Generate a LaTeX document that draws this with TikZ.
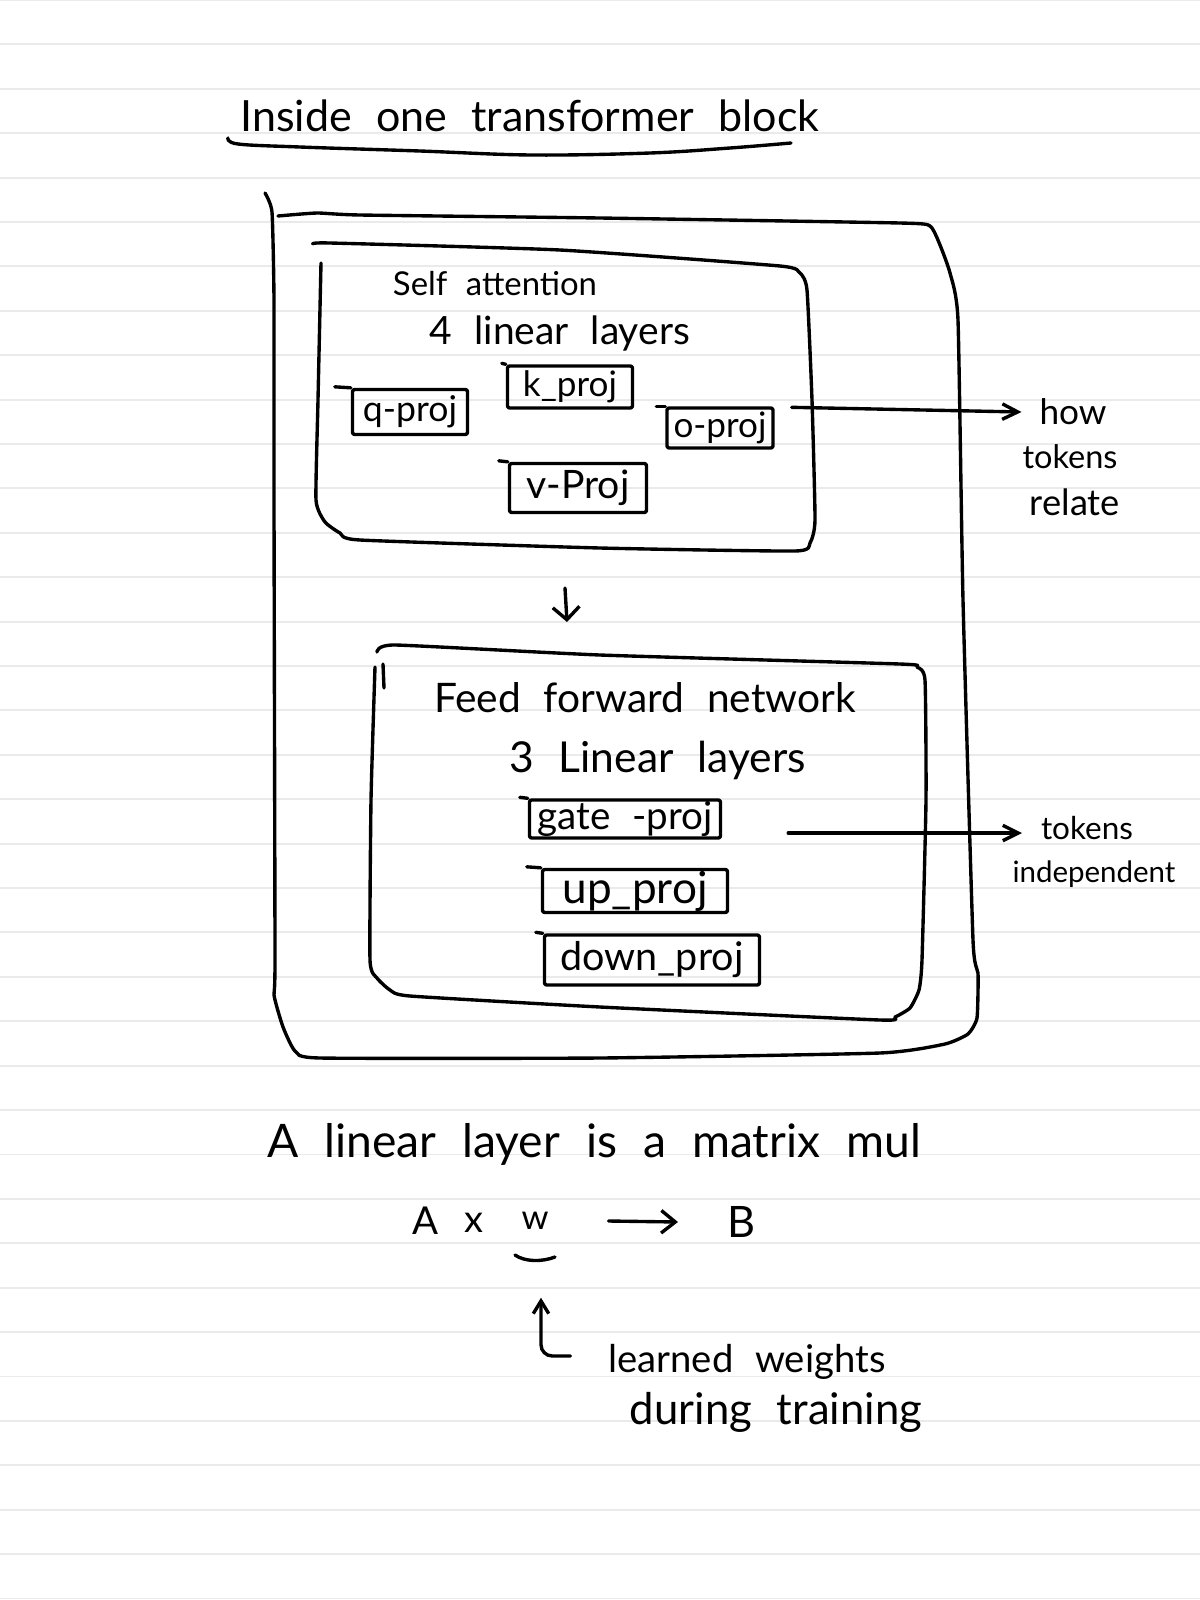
\documentclass[tikz,border=0pt]{standalone}
\usepackage{fontspec}
\setmainfont[WordSpace=2.2]{Lato}
\usetikzlibrary{arrows.meta,calc}
\newdimen\upx \upx=0.025cm
\newcommand{\fitw}[2]{\resizebox{#1\upx}{!}{#2}}
\definecolor{ruled}{HTML}{EAEAEA}
\tikzset{
  ink/.style={line width=2.4pt, line cap=round, line join=round, black},
  txt/.style={inner sep=0pt, outer sep=0pt},
  pbox/.style={ink, draw, rectangle, rounded corners=1.5pt, inner sep=0pt},
  arr/.style={ink, -{Straight Barb[length=11pt,width=11pt]}},
  arrwide/.style={ink, -{Straight Barb[length=10pt,width=16pt]}},
  arrdown/.style={ink, -{Straight Barb[length=9pt,width=19pt]}},
  arrsmall/.style={ink, -{Straight Barb[length=9pt,width=11pt]}},
}
\begin{document}
\begin{tikzpicture}[x=0.025cm,y=-0.025cm]
\fill[white] (0,0) rectangle (1200,1600);
\useasboundingbox (0,0) rectangle (1200,1600);
\foreach \k in {0,...,36} \draw[ruled, line width=1.3pt] (0,{44.4*\k}) -- (1200,{44.4*\k});

% title
\node[txt] (title) at (530,116) {\fitw{579}{Inside one transformer block}};
\draw[ink] plot[smooth, tension=0.6] coordinates {(228,138) (238,144) (300,147) (420,151) (532,155) (650,153) (730,148) (791,143)};

% outer transformer block
\draw[ink] plot[smooth, tension=0.3] coordinates {(265,193) (272,212) (274,300) (274,500) (275,960) (274,995) (283,1027) (295,1051) (320,1058) (600,1058) (880,1053) (945,1044) (968,1034) (977,1018) (978,973) (973,940) (963,600) (958,320) (950,273) (940,245) (930,226) (900,223) (600,218) (360,215) (317,213) (278,216)};

% self attention box
\draw[ink] plot[smooth, tension=0.3] coordinates {(313,244) (330,243) (560,250) (780,266) (800,273) (807,290) (812,400) (815,520) (810,543) (795,551) (600,548) (360,540) (340,533) (325,522) (316,500) (318,400) (321,263)};
\node[txt] (selfatt) at (495,284) {\fitw{204}{Self attention}};
\node[txt] (fourlin) at (560,333) {\fitw{260}{4 linear layers}};

\node[pbox, minimum width={115*0.025cm}, minimum height={45*0.025cm}] (qproj) at (410,412) {\fitw{94}{q-proj}};
\draw[ink] (qproj.north west) -- ++(-16,-1);
\node[pbox, minimum width={125*0.025cm}, minimum height={42*0.025cm}] (kproj) at (570,387) {\fitw{94}{k\_proj}};
\draw[ink] (kproj.north west) -- ++(-4,-1);
\node[pbox, minimum width={106*0.025cm}, minimum height={40*0.025cm}] (oproj) at (720,428) {\fitw{93}{o-proj}};
\draw[ink] (oproj.north west) -- ++(-9,0);
\node[pbox, minimum width={137*0.025cm}, minimum height={49*0.025cm}] (vproj) at (578,488) {\fitw{103}{v-Proj}};
\draw[ink] (vproj.north west) -- ++(-9,-1);

% how tokens relate
\node[txt] (how) at (1073,412) {\fitw{67}{how}};
\node[txt] (tokA) at (1070,457) {\fitw{95}{tokens}};
\node[txt] (relate) at (1075,502) {\fitw{90}{relate}};
\draw[arr] ($(oproj.north east)+(17,1)$) -- ($(how.west)+(-18,0)$);

% arrow between blocks
\coordinate (saout) at (565,588);
\coordinate (ffin) at (567,622);
\draw[arrdown] (saout) -- (ffin);

% feed forward box
\draw[ink] plot[smooth, tension=0.3] coordinates {(377,652) (395,645) (600,655) (900,664) (917,667) (925,680) (926,800) (922,960) (919,990) (910,1008) (895,1017) (880,1020) (600,1007) (410,996) (390,990) (377,978) (370,960) (371,800) (375,667)};
\draw[ink] (383,664) -- (384,688);
\node[txt] (ffn) at (645,698) {\fitw{422}{Feed forward network}};
\node[txt] (threelin) at (658,760) {\fitw{296}{3 Linear layers}};

\node[pbox, minimum width={191*0.025cm}, minimum height={38*0.025cm}] (gate) at (625,819) {\fitw{175}{gate -proj}};
\draw[ink] (gate.north west) -- ++(-8,-1);
\node[pbox, minimum width={185*0.025cm}, minimum height={43*0.025cm}] (up) at (635,891) {\fitw{145}{up\_proj}};
\draw[ink] (up.north west) -- ++(-14,-1);
\node[pbox, minimum width={215*0.025cm}, minimum height={50*0.025cm}] (down) at (652,960) {\fitw{183}{down\_proj}};
\draw[ink] (down.north west) -- ++(-7,-1);

% tokens independent
\node[txt] (tokB) at (1087,828) {\fitw{92}{tokens}};
\node[txt] (indep) at (1094,874) {\fitw{163}{independent}};
\draw[arr] ($(gate.east)+(66,14)$) -- ($(tokB.west)+(-19,5)$);

% bottom notes
\node[txt] (lin) at (594,1144) {\fitw{654}{A linear layer is a matrix mul}};
\node[txt] (A) at (425,1221) {\fitw{26}{A}};
\node[txt] (times) at (474,1223) {\fitw{19}{x}};
\node[txt] (w) at (535,1221) {\fitw{27}{w}};
\node[txt] (B) at (741,1222) {\fitw{28}{B}};
\draw[arrwide] ($(w.east)+(60,0)$) -- ($(B.west)+(-49,0)$);
\draw[ink] (515,1255) .. controls (525,1262) and (542,1262) .. (555,1257);

\node[txt] (lw) at (747,1362) {\fitw{277}{learned weights}};
\node[txt] (dt) at (776,1412) {\fitw{292}{during training}};
\draw[arrsmall, rounded corners=8pt] ($(lw.west)+(-38,-6)$) -| ($(w.south)+(6,68)$);
\end{tikzpicture}
\end{document}
